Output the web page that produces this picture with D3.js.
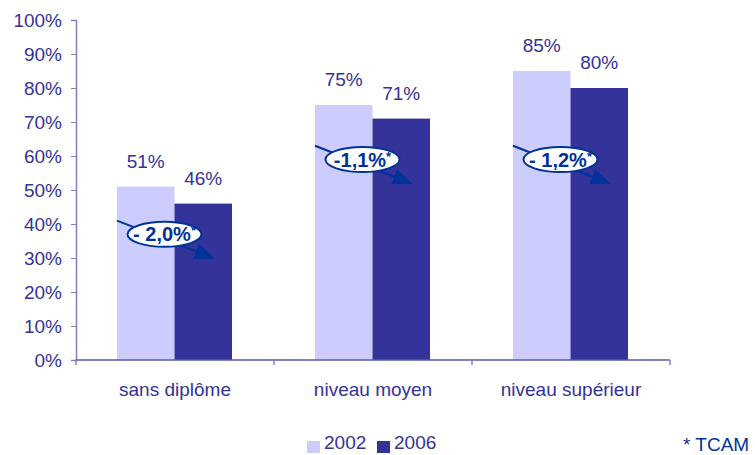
<!DOCTYPE html>
<html>
<head>
<meta charset="utf-8">
<script src="https://cdn.jsdelivr.net/npm/d3@7"></script>
<style>
  body { margin: 0; background: #fff; }
  svg text { font-family: "Liberation Sans", Arial, sans-serif; }
</style>
</head>
<body>
<svg id="chart" width="755" height="455"></svg>
<script>
// Data
const categories = ['sans diplôme', 'niveau moyen', 'niveau supérieur'];
const years = ['2002', '2006'];
const values2002 = [51, 75, 85];
const values2006 = [46, 71, 80];
const yTicks = [0, 10, 20, 30, 40, 50, 60, 70, 80, 90, 100];
// TCAM annotations: label, arrow start / end (in % on the y axis)
const tcamLabels = ['- 2,0%', '-1,1%', '- 1,2%'];
const arrowFrom = [41, 63, 63];
const arrowTo = [30, 52, 52];

const colors = { '2002': '#ccccff', '2006': '#333399' };
const textColor = '#333399';
const noteColor = '#003399';

const svg = d3.select('#chart');
const margin = { top: 20, left: 76 };
const width = 594;
const height = 340;

const g = svg.append('g')
    .attr('transform', `translate(${margin.left},${margin.top})`);

// Scales
const x0 = d3.scaleBand().domain(categories).range([0, width]);
const x1 = d3.scaleBand().domain(years).range([41, 156]);
const y = d3.scaleLinear().domain([0, 100]).range([height, 0]);

// Y axis
const yAxis = g.append('g')
    .call(d3.axisLeft(y).tickValues(yTicks).tickFormat(d => d + '%').tickSize(5).tickPadding(9));
yAxis.select('.domain').attr('stroke', '#8080c0').attr('stroke-width', 1.5);
yAxis.selectAll('.tick line').attr('stroke', '#8080c0');
yAxis.selectAll('.tick text')
    .attr('fill', textColor)
    .style('font-size', '19px');

// Bars
const rows = categories.map((c, i) => ({ cat: c, v2002: values2002[i], v2006: values2006[i], i }));

const groups = g.selectAll('.group')
    .data(rows)
    .enter().append('g')
    .attr('class', 'group')
    .attr('transform', d => `translate(${x0(d.cat)},0)`);

years.forEach(yr => {
    groups.append('rect')
        .attr('x', x1(yr))
        .attr('y', d => y(d['v' + yr]))
        .attr('width', x1.bandwidth())
        .attr('height', d => height - y(d['v' + yr]))
        .attr('fill', colors[yr]);

    groups.append('text')
        .attr('x', x1(yr) + x1.bandwidth() / 2)
        .attr('y', d => y(d['v' + yr]) - 19)
        .attr('text-anchor', 'middle')
        .attr('fill', textColor)
        .style('font-size', '19px')
        .text(d => d['v' + yr] + '%');
});

// X axis
const xAxis = g.append('g')
    .attr('transform', `translate(0,${height})`)
    .call(d3.axisBottom(x0).tickSize(0).tickPadding(23));
xAxis.select('.domain').remove();
xAxis.selectAll('.tick text')
    .attr('fill', textColor)
    .style('font-size', '19px');
g.append('line')
    .attr('x1', 0).attr('x2', width)
    .attr('y1', height).attr('y2', height)
    .attr('stroke', '#5a5aaa').attr('stroke-width', 1.5);
g.selectAll('.xtick')
    .data(d3.range(categories.length + 1))
    .enter().append('line')
    .attr('x1', d => d * x0.step()).attr('x2', d => d * x0.step())
    .attr('y1', height).attr('y2', height + 5)
    .attr('stroke', '#8080c0').attr('stroke-width', 1.5);

// Arrow marker
svg.append('defs').append('marker')
    .attr('id', 'arrow')
    .attr('viewBox', '0 0 10 10')
    .attr('refX', 9).attr('refY', 5)
    .attr('markerWidth', 20).attr('markerHeight', 16)
    .attr('markerUnits', 'userSpaceOnUse')
    .attr('orient', 'auto')
    .attr('preserveAspectRatio', 'none')
    .append('path')
    .attr('d', 'M0,0 L10,5 L0,10 Z')
    .attr('fill', noteColor);

// TCAM annotations
groups.append('line')
    .attr('x1', x1('2002'))
    .attr('y1', d => y(arrowFrom[d.i]))
    .attr('x2', x1('2006') + x1.bandwidth() - 19)
    .attr('y2', d => y(arrowTo[d.i]))
    .attr('stroke', noteColor)
    .attr('stroke-width', 2)
    .attr('marker-end', 'url(#arrow)');

groups.append('ellipse')
    .attr('cx', x1('2006') - 10)
    .attr('cy', d => (y(arrowFrom[d.i]) + y(arrowTo[d.i])) / 2 - 5)
    .attr('rx', 37)
    .attr('ry', 12.5)
    .attr('fill', '#fff')
    .attr('stroke', noteColor)
    .attr('stroke-width', 2);

const notes = groups.append('text')
    .attr('x', x1('2006') - 10)
    .attr('y', d => (y(arrowFrom[d.i]) + y(arrowTo[d.i])) / 2 + 2)
    .attr('text-anchor', 'middle')
    .attr('fill', noteColor)
    .style('font-size', '20px')
    .style('font-weight', 'bold');
notes.append('tspan').text(d => tcamLabels[d.i]);
notes.append('tspan')
    .attr('dy', -6)
    .style('font-size', '13px')
    .text('*');

// Legend
const legend = svg.append('g').attr('transform', 'translate(307,441)');
const legendX = [0, 70];
years.forEach((yr, i) => {
    legend.append('rect')
        .attr('x', legendX[i]).attr('y', 0)
        .attr('width', 13).attr('height', 12)
        .attr('fill', colors[yr]);
    legend.append('text')
        .attr('x', legendX[i] + 17).attr('y', 8)
        .attr('fill', textColor)
        .style('font-size', '19px')
        .text(yr);
});

svg.append('text')
    .attr('x', 683).attr('y', 451)
    .attr('fill', noteColor)
    .style('font-size', '19px')
    .text('* TCAM');
</script>
</body>
</html>
